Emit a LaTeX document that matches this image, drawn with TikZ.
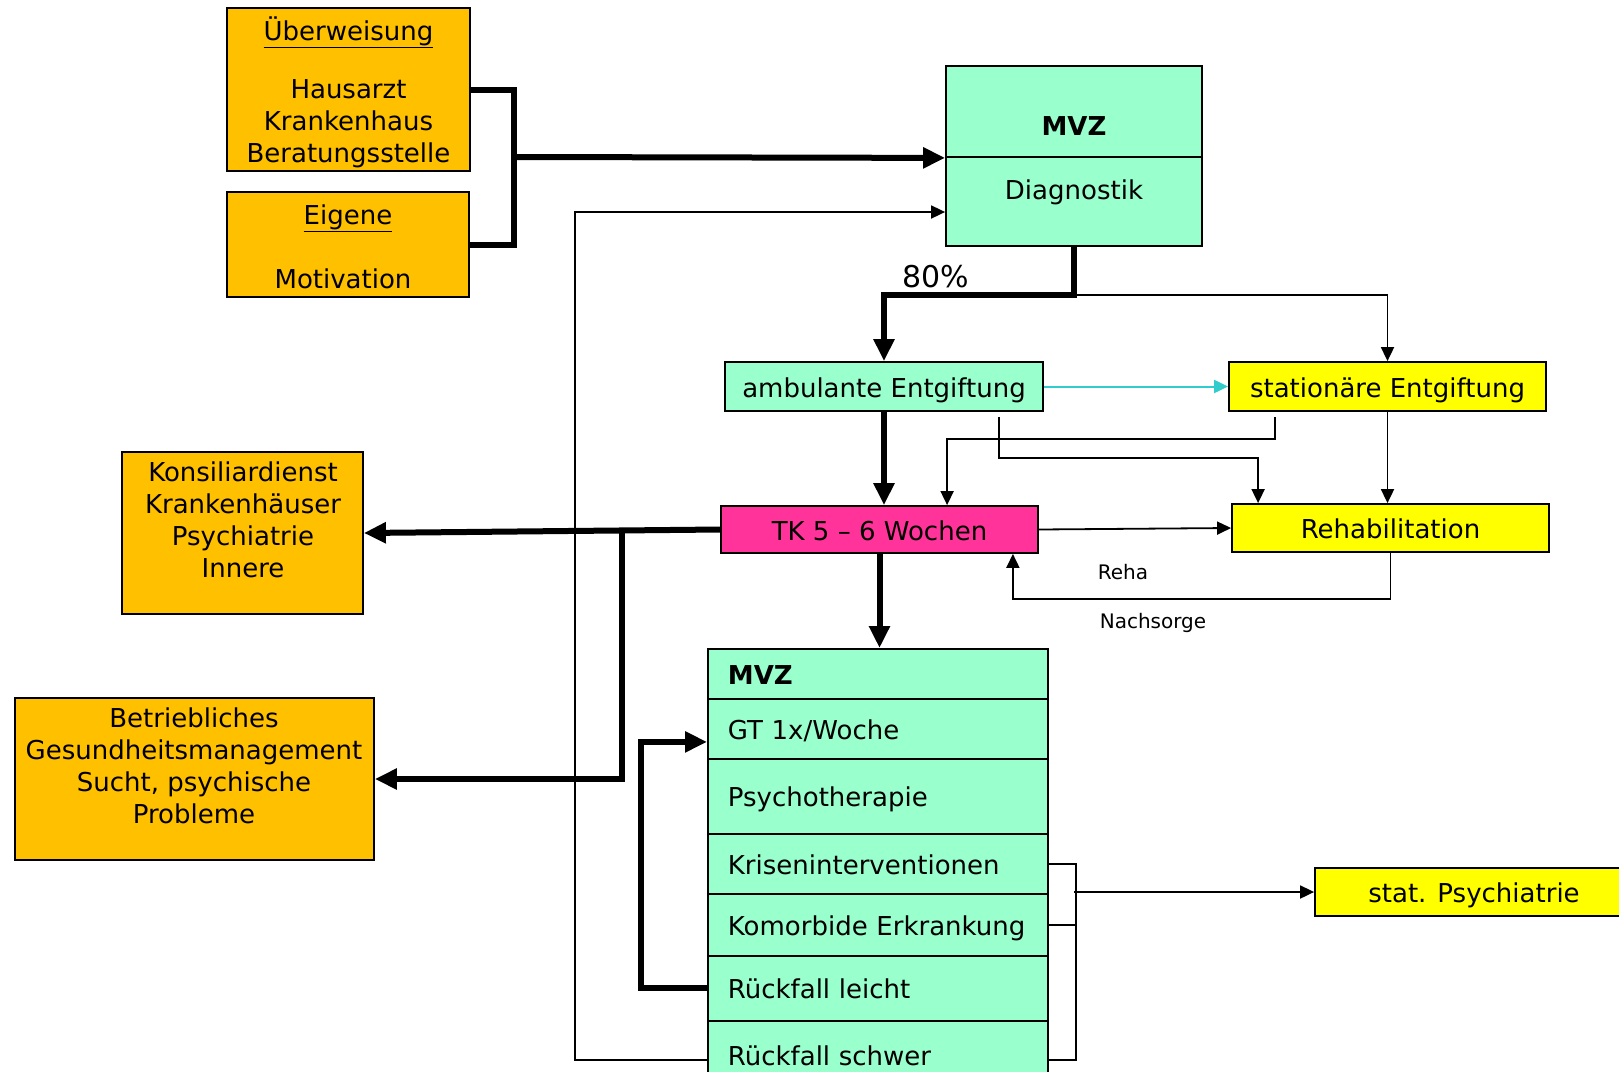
\documentclass[tikz,border=0pt]{standalone}
\usepackage{fontspec}
\setmainfont{DejaVu Sans}
\usetikzlibrary{arrows.meta,calc}
\definecolor{orangebox}{HTML}{FFC000}
\definecolor{mint}{HTML}{99FFCC}
\definecolor{yel}{HTML}{FFFF00}
\definecolor{pinkbox}{HTML}{FF3399}
\definecolor{cyanline}{HTML}{33CCCC}
\begin{document}
\begin{tikzpicture}[x=1pt,y=-1pt,
  bx/.style={draw=black,line width=1.8pt,inner sep=0pt,align=center,text height=21pt,text depth=0pt,font=\fontsize{26}{32}\selectfont},
  txt/.style={inner sep=0pt,align=center,font=\fontsize{26}{32}\selectfont},
  small/.style={inner sep=0pt,font=\fontsize{20}{24}\selectfont},
  rowbox/.style={draw=black,fill=mint,line width=1.8pt,inner ysep=0pt,inner xsep=20pt,text width=300pt,text height=21pt,text depth=0pt,align=left,anchor=north west,font=\fontsize{26}{32}\selectfont},
  thk/.style={line width=6pt},
  thn/.style={line width=1.8pt},
  bigtip/.style={-{Triangle[length=22pt,width=20pt]}},
  smalltip/.style={-{Triangle[length=14pt,width=13pt]}}
]
\useasboundingbox (0,0) rectangle (1619,1071);
\clip (0,0) rectangle (1619,1071);
\fill[white] (0,0) rectangle (1619,1071);

% top left boxes
\node[bx,fill=orangebox,minimum width=243pt,minimum height=163pt] (ueb) at (348.5,89.5) {};
\node[txt] (uebt1) at (348.5,32) {\underline{Überweisung}};
\node[txt] (uebt2) at (348.5,124) {Hausarzt\\Krankenhaus\\Beratungsstelle};
\node[bx,fill=orangebox,minimum width=242pt,minimum height=105pt] (eig) at (348,244.5) {};
\node[txt] (eigt1) at (348,218) {\underline{Eigene}};
\node[txt] (eigt2) at (343,279) {Motivation};

% MVZ top
\node[bx,fill=mint,minimum width=256pt,minimum height=91pt] (mvzh) at (1074,111.5) {};
\node[txt,font=\fontsize{26}{32}\selectfont\bfseries] (mvzt) at (1074,126) {MVZ};
\node[bx,fill=mint,minimum width=256pt,minimum height=89pt] (diag) at (1074,201.5) {};
\node[txt] (diagt) at (1074,192) {Diagnostik};

% middle boxes
\node[bx,fill=mint,minimum width=318pt,minimum height=49pt] (amb) at (884,386.5) {ambulante Entgiftung};
\node[bx,fill=yel,minimum width=317pt,minimum height=49pt] (stat) at (1387.5,386.5) {stationäre Entgiftung};
\node[bx,fill=pinkbox,minimum width=317pt,minimum height=47pt] (tk) at (879.5,529.5) {TK 5 – 6 Wochen};
\node[bx,fill=yel,minimum width=317pt,minimum height=48pt] (rehab) at (1390.5,528) {Rehabilitation};

% left boxes
\node[bx,fill=orangebox,minimum width=241pt,minimum height=162pt] (kons) at (242.5,533) {};
\node[txt] (konst) at (243,520) {Konsiliardienst\\Krankenhäuser\\Psychiatrie\\Innere};
\node[bx,fill=orangebox,minimum width=359pt,minimum height=162pt] (betr) at (194.5,779) {};
\node[txt] (betrt) at (194,766) {Betriebliches\\Gesundheitsmanagement\\Sucht, psychische\\Probleme};

% stat. Psychiatrie
\node[bx,fill=yel,minimum width=318pt,minimum height=48pt] (psych) at (1474,892) {stat. Psychiatrie};

% MVZ bottom rows
\node[rowbox,minimum height=50pt,font=\fontsize{26}{32}\selectfont\bfseries] (r0) at (707,648) {MVZ};
\node[rowbox,minimum height=60pt] (gt) at (707,698) {GT 1x/Woche};
\node[rowbox,minimum height=75pt] (ps) at (707,758) {Psychotherapie};
\node[rowbox,minimum height=60pt] (kr) at (707,833) {Kriseninterventionen};
\node[rowbox,minimum height=62pt] (ko) at (707,893) {Komorbide Erkrankung};
\node[rowbox,minimum height=65pt] (rl) at (707,955) {Rückfall leicht};
\node[rowbox,minimum height=68pt] (rs) at (707,1020) {Rückfall schwer};

% labels
\node[txt,font=\fontsize{30}{36}\selectfont] (p80) at (936,277) {80\%};
\node[small] (reha) at (1123,572) {Reha};
\node[small] (nach) at (1153,623) {Nachsorge};

% coordinates
\coordinate (j1) at (514,157);
\coordinate (c80) at (1074,295);
\coordinate (lp) at (575,212);
\coordinate (bj) at (622,531);
\coordinate (rbx) at (1074,892);

% connectors: entry bracket
\draw[thk] (ueb.east) -| (j1) |- (eig.east);
\draw[thk,bigtip] (j1) -- (mvzh.south west);

% Diagnostik down
\draw[thk,bigtip] (diag.south) -- (c80) -| (amb.north);
\draw[thn,smalltip] (c80) -| (stat.north);

% cyan
\draw[line width=2pt,cyanline,smalltip] (amb.east) -- (stat.west);

% amb -> tk
\draw[thk,bigtip] (amb.south) -- (amb.south |- tk.north);
% amb -> rehab
\draw[thn,smalltip] ($(amb.south east)+(-45,5)$) |- ($(rehab.north west)+(27,-45)$) -- ($(rehab.north west)+(27,0)$);
% stat -> tk
\draw[thn,smalltip] ($(stat.south west)+(47,5)$) |- ($(tk.north west)+(227,-66)$) -- ($(tk.north west)+(227,0)$);
% stat -> rehab
\draw[thn,smalltip] (stat.south) -- (stat.south |- rehab.north);
% tk -> rehab
\draw[thn,smalltip] (tk.east) -- (rehab.west);
% rehab -> tk (Nachsorge)
\draw[thn,smalltip] (rehab.south) |- ($(tk.south east)+(-26,45)$) -- ($(tk.south east)+(-26,0)$);

% tk -> left boxes
\draw[thk,bigtip] (tk.west) -- (kons.east);
\draw[thk,bigtip] (bj) |- (betr.east);

% tk -> MVZ rows
\draw[thk,bigtip] (tk.south) -- (tk.south |- r0.north);

% loop Rückfall leicht -> GT
\draw[thk,bigtip] (rl.west) -| ($(gt.west)+(-66,13)$) -- ($(gt.west)+(0,13)$);

% Rückfall schwer -> Diagnostik
\draw[thn,smalltip] ($(rs.west)+(0,5)$) -| (lp) -- (lp -| diag.west);

% right bracket -> stat. Psychiatrie
\draw[thn] (kr.east) -- ++(27,0) |- ($(rs.east)+(0,5)$);
\draw[thn] (ko.east) -- ++(27,0);
\draw[thn,smalltip] (rbx) -- (psych.west);
\end{tikzpicture}
\end{document}
